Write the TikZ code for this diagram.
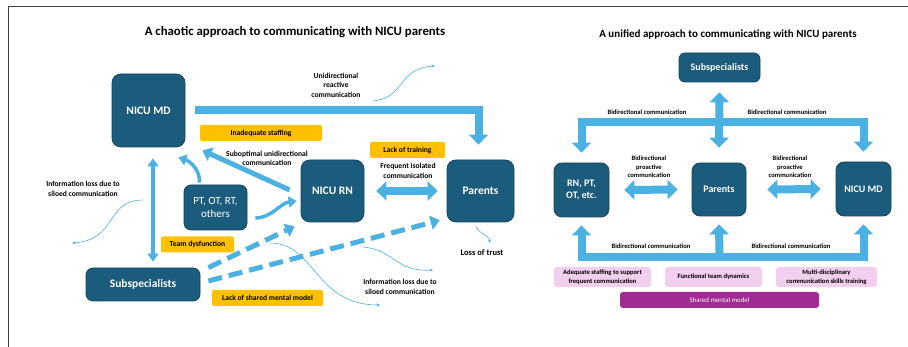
\documentclass[tikz,border=0pt]{standalone}
\usepackage{fontspec}
\setmainfont{Carlito}
\usetikzlibrary{arrows.meta}
\definecolor{nicuteal}{HTML}{1B5B7B}
\definecolor{nicuedge}{HTML}{134560}
\definecolor{nicublue}{HTML}{4AB1E2}
\definecolor{nicuyellow}{HTML}{FFC000}
\definecolor{nicupink}{HTML}{F2CEEF}
\definecolor{nicupurple}{HTML}{A02B93}
\newcommand{\bigfont}{\bfseries\fontsize{11.5}{13.5}\selectfont}
\newcommand{\midfont}{\bfseries\fontsize{10}{12}\selectfont}
\newcommand{\tinyfont}{\bfseries\fontsize{7.6}{9.5}\selectfont}
\newcommand{\rtinyfont}{\bfseries\fontsize{6.6}{8.5}\selectfont}

\tikzset{
  box/.style={draw=nicuedge, line width=0.8pt, fill=nicuteal, rounded corners=9pt,
    text=white, font=\bigfont, align=center, inner sep=0pt},
  note/.style={fill=nicuyellow, rounded corners=2pt, font=\tinyfont, inner sep=0pt},
  pinknote/.style={fill=nicupink, rounded corners=3pt, font=\rtinyfont, align=center,
    inner sep=0pt, minimum width=97pt, minimum height=20pt},
  lbl/.style={font=\tinyfont, align=center},
  rlbl/.style={font=\rtinyfont, align=center},
  fat/.style={draw=nicublue, line width=8pt, line join=miter},
  mid/.style={draw=nicublue, line width=5pt},
  slim/.style={draw=nicublue, line width=3.5pt},
  broken/.style={draw=nicublue, line width=5pt, dash pattern=on 14pt off 7pt},
  wisp/.style={draw=nicublue, line width=0.6pt, -{Stealth[length=3.5pt,width=3pt]}},
  bighead/.tip={Triangle[width=19pt,length=10pt]},
  midhead/.tip={Triangle[width=14pt,length=9pt]},
  smallhead/.tip={Triangle[width=11pt,length=8pt]}
}

\begin{document}
\begin{tikzpicture}[x=1pt,y=-1pt]
    \useasboundingbox (0,0) rectangle (908,347);
    \draw[line width=1pt, black!75] (908,7) -- (8,7) -- (8,347);

    % left: the chaotic approach
    \node[font=\bfseries\fontsize{12.8}{15}\selectfont] (ltitle) at (295,32) {A chaotic approach to communicating with NICU parents};

    \node[box, minimum width=73pt, minimum height=73pt] (md) at (148.5,110.5) {NICU MD};
    \node[box, minimum width=63pt, minimum height=62pt] (rn) at (332.5,191) {NICU RN};
    \node[box, minimum width=67pt, minimum height=62pt] (par) at (480.5,191) {Parents};
    \node[box, minimum width=63pt, minimum height=45pt, rounded corners=7pt,
      font=\fontsize{11}{13}\selectfont] (pt) at (215.5,207.5) {PT, OT, RT,\\others};
    \node[box, minimum width=114pt, minimum height=33pt, rounded corners=7pt] (sub) at (143,284.5) {Subspecialists};

    \node[note, minimum width=122pt, minimum height=16pt] (staff) at (261,133) {Inadequate staffing};
    \node[note, minimum width=75pt, minimum height=16pt] (train) at (407.5,150) {Lack of training};
    \node[note, minimum width=73pt, minimum height=16pt] (dysf) at (197.5,244.5) {Team dysfunction};
    \node[note, minimum width=111pt, minimum height=16pt] (model) at (267.5,298) {Lack of shared mental model};

    \node[lbl] (unid) at (336,85) {Unidirectional\\reactive\\communication};
    \node[lbl] (subopt) at (267,158.5) {Suboptimal unidirectional\\communication};
    \node[lbl] (freq) at (408,171) {Frequent isolated\\communication};
    \node[lbl] (lossa) at (83,189) {Information loss due to\\siloed communication};
    \node[lbl] (lossb) at (400,287) {Information loss due to\\siloed communication};
    \node[lbl, font=\bfseries\fontsize{8.5}{10}\selectfont] (trust) at (482,253) {Loss of trust};

    \draw[fat, -bighead] ([xshift=10pt]md.east) -| ([xshift=-2pt,yshift=15pt]par.north);
    \draw[mid, -midhead] ([xshift=-11pt,yshift=1pt]rn.west) -- ([xshift=17pt,yshift=-3pt]md.south east);
    \draw[slim, smallhead-smallhead] ([xshift=4.5pt,yshift=-11pt]md.south) -- ([xshift=10pt,yshift=6pt]sub.north);
    \draw[slim, -smallhead] ([xshift=-16pt,yshift=2pt]pt.north) .. controls +(1,-12) and +(12,4) .. ([xshift=-7pt,yshift=-10pt]md.south east);
    \draw[slim, -smallhead] ([xshift=8pt,yshift=-10.5pt]pt.east) .. controls +(16,0) and +(-16,2) .. ([xshift=-4pt,yshift=-10pt]rn.west);
    \draw[fat, bighead-bighead] ([xshift=12pt]rn.east) -- ([xshift=-9pt]par.west);
    \draw[broken, -midhead] ([xshift=8pt]sub.north east) -- ([xshift=-6pt,yshift=-4pt]rn.south west);
    \draw[broken, -midhead] ([xshift=8pt,yshift=3.5pt]sub.east) -- ([xshift=-7pt,yshift=2pt]par.south west);

    \draw[wisp] (373,101) .. controls (405,98) and (398,68) .. (435,66);
    \draw[wisp] (143,200) .. controls (105,200) and (118,240) .. (72,243);
    \draw[wisp] (270,243) .. controls (315,243) and (315,305) .. (380,305);
    \draw[wisp] (363,247) .. controls (395,250) and (395,272) .. (433,270);
    \draw[wisp] (476,226) .. controls (480,236) and (488,233) .. (490,243);

    % right: the unified approach
    \node[font=\bfseries\fontsize{11}{13}\selectfont] (rtitle) at (728,35) {A unified approach to communicating with NICU parents};

    \node[box, font=\midfont, rounded corners=6pt, minimum width=81pt, minimum height=29pt] (rsub) at (719.5,67.5) {Subspecialists};
    \node[box, font=\midfont, rounded corners=8pt, minimum width=55pt, minimum height=54pt] (rrn) at (581.5,190) {RN, PT,\\OT, etc.};
    \node[box, font=\midfont, rounded corners=8pt, minimum width=54pt, minimum height=53pt] (rpar) at (719,189.5) {Parents};
    \node[box, font=\midfont, rounded corners=8pt, minimum width=55pt, minimum height=54pt] (rmd) at (863.5,189) {NICU MD};

    \coordinate (topbar) at (719.5,122);
    \coordinate (botbar) at (719.5,257.5);
    \draw[fat, -bighead] (topbar) -| ([yshift=10pt]rrn.north);
    \draw[fat, -bighead] (topbar) -| ([yshift=10pt]rmd.north);
    \draw[fat, bighead-bighead] ([yshift=-10pt]rsub.south) -- ([yshift=15pt]rpar.north);
    \draw[fat, -bighead] (botbar) -| ([yshift=-8pt]rrn.south);
    \draw[fat, -bighead] (botbar) -| ([yshift=-8pt]rmd.south);
    \draw[fat, -bighead] (botbar) -- ([yshift=-8pt]rpar.south);
    \draw[fat, bighead-bighead] ([xshift=15pt]rrn.east) -- ([xshift=-14pt]rpar.west);
    \draw[fat, bighead-bighead] ([xshift=21pt]rpar.east) -- ([xshift=-15pt]rmd.west);

    \node[rlbl] (bca) at (647,112) {Bidirectional communication};
    \node[rlbl] (bcb) at (787,112) {Bidirectional communication};
    \node[rlbl] (bcc) at (651,246) {Bidirectional communication};
    \node[rlbl] (bcd) at (791,246) {Bidirectional communication};
    \node[rlbl] (bpa) at (649,167) {Bidirectional\\proactive\\communication};
    \node[rlbl] (bpb) at (790,167) {Bidirectional\\proactive\\communication};

    \node[pinknote] (pstaff) at (602.5,277) {Adequate staffing to support\\frequent communication};
    \node[pinknote] (pteam) at (713.5,277) {Functional team dynamics};
    \node[pinknote, minimum width=101pt] (pskill) at (826.5,277) {Multi-disciplinary\\communication skills training};
    \node[fill=nicupurple, rounded corners=3pt, text=white, font=\fontsize{6.9}{8}\selectfont,
      inner sep=0pt, minimum width=199pt, minimum height=16pt] (shared) at (719.5,300) {Shared mental model};

\end{tikzpicture}
\end{document}
